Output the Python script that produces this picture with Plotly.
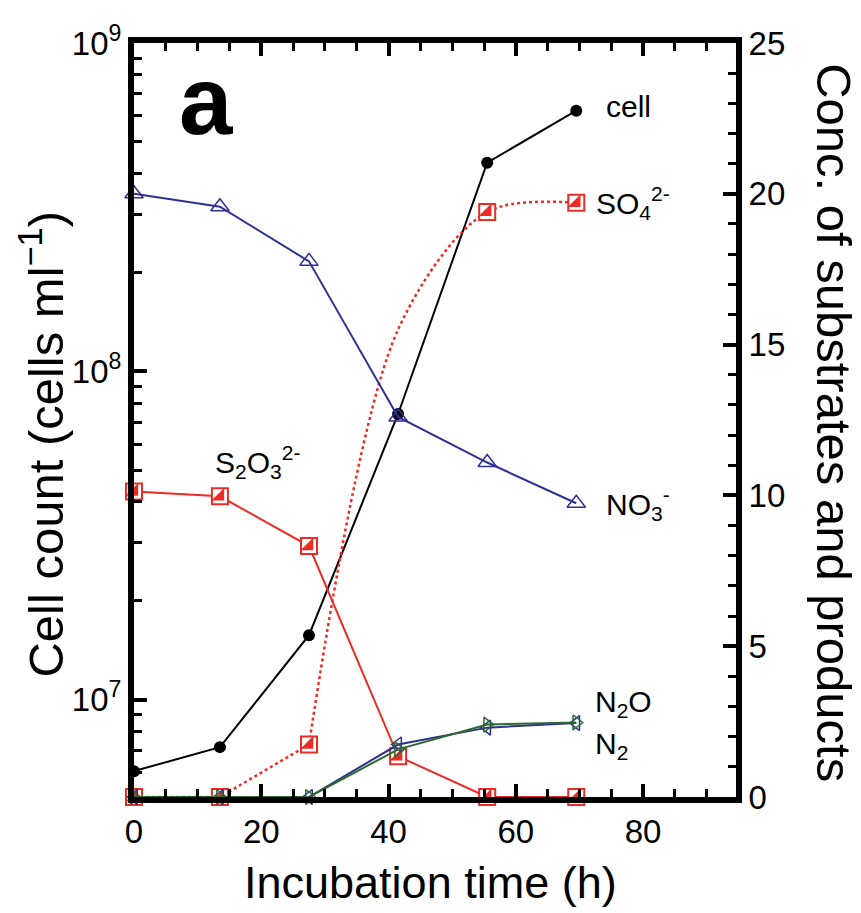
import plotly.graph_objects as go

time_h = [0, 13.5, 27.5, 41.5, 55.5, 69.5]
cell = [6.05e6, 7.16e6, 1.57e7, 7.41e7, 4.32e8, 6.22e8]
no3 = [20.0, 19.57, 17.76, 12.6, 11.09, 9.74]
s2o3 = [10.13, 9.97, 8.32, 1.35, 0, 0]
so4 = [0, 0, 1.74, 15.5, 19.4, 19.7]
n2o = [0, 0, 0, 1.58, 2.4, 2.47]
n2 = [0, 0, 0, 1.74, 2.3, 2.45]

x_ticks = [0, 20, 40, 60, 80]
y_log_ticks = [1e7, 1e8, 1e9]
y_log_labels = ["10<sup>7</sup>", "10<sup>8</sup>", "10<sup>9</sup>"]

RED = "#ee2a24"
BLUE = "#2e3192"
GREEN = "#2d6a2f"
FONT = "Liberation Sans, Arial, sans-serif"

fig = go.Figure()

# SO4 2- dotted: straight start, curved rise
fig.add_trace(go.Scatter(x=time_h[:3], y=so4[:3], yaxis="y2", mode="lines",
                         line=dict(color=RED, width=2.5, dash="dot"),
                         cliponaxis=False, showlegend=False))
fig.add_trace(go.Scatter(x=time_h[2:], y=so4[2:], yaxis="y2", mode="lines",
                         line=dict(color=RED, width=2.5, dash="dot", shape="spline", smoothing=0.9),
                         cliponaxis=False, showlegend=False))

# S2O3 2- solid
fig.add_trace(go.Scatter(x=time_h, y=s2o3, yaxis="y2", mode="lines",
                         line=dict(color=RED, width=2),
                         cliponaxis=False, showlegend=False))

# half-filled red squares
so4_mark_idx = [0, 1, 2, 4, 5]
for xs, ys in [(time_h, s2o3),
               ([time_h[i] for i in so4_mark_idx], [so4[i] for i in so4_mark_idx])]:
    fig.add_trace(go.Scatter(x=xs, y=ys, yaxis="y2", mode="markers",
                             marker=dict(symbol="square", size=16, color="white",
                                         line=dict(color=RED, width=2)),
                             cliponaxis=False, showlegend=False))
    fig.add_trace(go.Scatter(x=xs, y=ys, yaxis="y2", mode="markers",
                             marker=dict(symbol="triangle-se", size=14, color=RED,
                                         line=dict(width=0)),
                             cliponaxis=False, showlegend=False))

# N2 (blue) and N2O (green)
fig.add_trace(go.Scatter(x=time_h, y=n2, yaxis="y2", mode="lines+markers",
                         line=dict(color=BLUE, width=2),
                         marker=dict(symbol="triangle-left-open", size=13, color=BLUE, line=dict(width=1.5)),
                         cliponaxis=False, showlegend=False))
fig.add_trace(go.Scatter(x=time_h, y=n2o, yaxis="y2", mode="lines+markers",
                         line=dict(color=GREEN, width=2),
                         marker=dict(symbol="triangle-right-open", size=13, color=GREEN, line=dict(width=1.5)),
                         cliponaxis=False, showlegend=False))

# NO3- (blue open triangles)
fig.add_trace(go.Scatter(x=time_h, y=no3, yaxis="y2", mode="lines+markers",
                         line=dict(color=BLUE, width=2),
                         marker=dict(symbol="triangle-up-open", size=16, color=BLUE, line=dict(width=1.5)),
                         cliponaxis=False, showlegend=False))

# cell count
fig.add_trace(go.Scatter(x=time_h, y=cell, yaxis="y", mode="lines+markers",
                         line=dict(color="black", width=2),
                         marker=dict(symbol="circle", size=12, color="black"),
                         cliponaxis=False, showlegend=False))

labels = [
    ("cell", 73.9, 22.9),
    ("SO<sub>4</sub><sup>2-</sup>", 72.3, 19.7),
    ("S<sub>2</sub>O<sub>3</sub><sup>2-</sup>", 12.4, 11.1),
    ("NO<sub>3</sub><sup>-</sup>", 73.9, 9.7),
    ("N<sub>2</sub>O", 72.2, 3.1),
    ("N<sub>2</sub>", 72.2, 1.7),
]
for txt, xx, yy in labels:
    fig.add_annotation(x=xx, y=yy, xref="x", yref="y2", text=txt, showarrow=False,
                       xanchor="left", yanchor="middle",
                       font=dict(family=FONT, size=30, color="black"))

fig.add_annotation(x=11.3, y=23.1, xref="x", yref="y2", text="<b>a</b>", showarrow=False,
                   xanchor="center", yanchor="middle",
                   font=dict(family=FONT, size=96, color="black"))

fig.add_annotation(x=-0.152, y=0.468, xref="paper", yref="paper", xanchor="center", yanchor="middle",
                   text="Cell count (cells ml<sup>−1</sup>)", textangle=-90, showarrow=False,
                   font=dict(family=FONT, size=49, color="black"))
fig.add_annotation(x=1.163, y=0.497, xref="paper", yref="paper", xanchor="center", yanchor="middle",
                   text="Conc. of substrates and products", textangle=90, showarrow=False,
                   font=dict(family=FONT, size=49, color="black"))
fig.add_annotation(x=0.493, y=-0.114, xref="paper", yref="paper", xanchor="center", yanchor="middle",
                   text="Incubation time (h)", showarrow=False,
                   font=dict(family=FONT, size=45, color="black"))

fig.update_layout(
    width=861, height=913,
    margin=dict(l=126, r=133, t=29, b=124),
    paper_bgcolor="white", plot_bgcolor="white",
    font=dict(family=FONT, size=33, color="black"),
    xaxis=dict(range=[0, 94.6], showline=True, linewidth=6, linecolor="black", mirror="ticks",
               ticks="inside", ticklen=13, tickwidth=4, tickcolor="black",
               tickvals=x_ticks, showgrid=False, zeroline=False,
               minor=dict(ticks="inside", ticklen=8, tickwidth=3, tickcolor="black", dtick=5, tick0=0),
               tickfont=dict(size=33)),
    yaxis=dict(type="log", range=[6.703, 9], showline=True, linewidth=6, linecolor="black",
               ticks="inside", ticklen=13, tickwidth=4, tickcolor="black",
               tickvals=y_log_ticks, ticktext=y_log_labels, showgrid=False, zeroline=False,
               minor=dict(ticks="inside", ticklen=8, tickwidth=3, tickcolor="black",
                          tickvals=[m * 10 ** e for e in (6, 7, 8) for m in range(2, 10)]),
               tickfont=dict(size=33)),
    yaxis2=dict(range=[0, 25], overlaying="y", side="right", showline=True, linewidth=6,
                linecolor="black", ticks="inside", ticklen=13, tickwidth=4, tickcolor="black",
                dtick=5, showgrid=False, zeroline=False,
                minor=dict(ticks="inside", ticklen=8, tickwidth=3, tickcolor="black", dtick=1),
                tickfont=dict(size=33)),
)

fig.write_html("out.html")
